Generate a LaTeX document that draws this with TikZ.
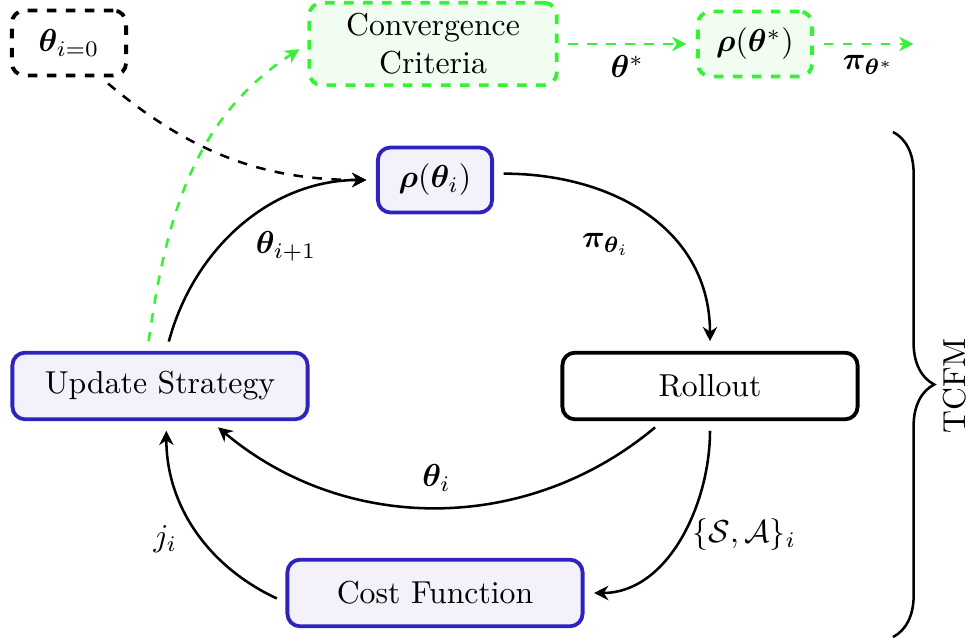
\documentclass[tikz,border=0pt]{standalone}
\usepackage{bm}
\usetikzlibrary{arrows.meta,decorations.pathreplacing}
\definecolor{loopblue}{RGB}{48,34,190}
\definecolor{loopfill}{RGB}{243,242,251}
\definecolor{critgreen}{RGB}{52,242,52}
\definecolor{critfill}{RGB}{242,253,242}
\begin{document}
\begin{tikzpicture}[x=0.315pt,y=0.315pt,thick,>={Stealth[length=4.5pt,width=4.5pt]},
    box/.style={draw,very thick,rounded corners=4pt,minimum height=20.5pt,align=center},
    loopbox/.style={box,draw=loopblue,fill=loopfill},
    critbox/.style={box,dashed,draw=critgreen,fill=critfill},
    flow/.style={->,shorten >=3pt,shorten <=3pt}]
    \useasboundingbox (0,0) rectangle (969,643);
    \node[box,dashed,minimum width=36pt] (init) at (69,600) {$\bm{\theta}_{i=0}$};
    \node[critbox,minimum width=78pt,minimum height=26pt] (crit) at (433,599)
       {Convergence\\Criteria};
    \node[critbox,minimum width=36pt] (rhostar) at (755,599) {$\bm{\rho}(\bm{\theta}^*)$};
    \coordinate (piout) at (923,599);
    \node[loopbox,minimum width=36pt] (rho) at (435,463) {$\bm{\rho}(\bm{\theta}_i)$};
    \node[loopbox,minimum width=93pt,minimum height=21pt] (upd) at (160,257) {Update Strategy};
    \node[box,fill=white,minimum width=93pt,minimum height=21pt] (roll) at (710,257) {Rollout};
    \node[loopbox,minimum width=93pt,minimum height=21pt] (cost) at (435,50) {Cost Function};
    \node[rotate=90] (tcfm) at (955,257) {TCFM};
    \draw[flow,dashed] ([xshift=10pt]init.south) to[out=-40,in=180] (rho.west);
    \draw[flow,dashed,critgreen] ([xshift=-4pt]upd.north) to[out=82,in=-147] (crit.west);
    \draw[flow,dashed,critgreen] (crit) -- node[below,text=black] (lthstar) {$\bm{\theta}^*$} (rhostar);
    \draw[flow,dashed,critgreen] (rhostar) -- node[below,text=black] (lpistar) {$\bm{\pi}_{\bm{\theta}^*}$} (piout);
    \draw[flow] ([xshift=2pt]upd.north) to[out=75,in=180]
       node[pos=.45,anchor=west,xshift=4pt,yshift=-3pt] (lnext) {$\bm{\theta}_{i+1}$} (rho.west);
    \draw[flow] ([yshift=2pt]rho.east) to[out=0,in=90,looseness=1.1]
       node[pos=.45,below left=4pt,xshift=6pt] (lpi) {$\bm{\pi}_{\bm{\theta}_i}$} (roll.north);
    \draw[flow] ([xshift=-15pt]roll.south) to[out=-140,in=-40]
       node[above,yshift=1pt] (lth) {$\bm{\theta}_i$} ([xshift=16pt]upd.south);
    \draw[flow] (roll.south) to[out=-90,in=0]
       node[pos=.48,right] (lsa) {$\{\mathcal{S},\mathcal{A}\}_i$} (cost.east);
    \draw[flow] ([yshift=-3pt]cost.west) to[out=155,in=-90]
       node[pos=.45,left=4.5pt] (lj) {$j_i$} ([xshift=2pt]upd.south);
    \draw[decorate,decoration={brace,amplitude=13pt}] (893,511) -- (893,6);
\end{tikzpicture}
\end{document}
